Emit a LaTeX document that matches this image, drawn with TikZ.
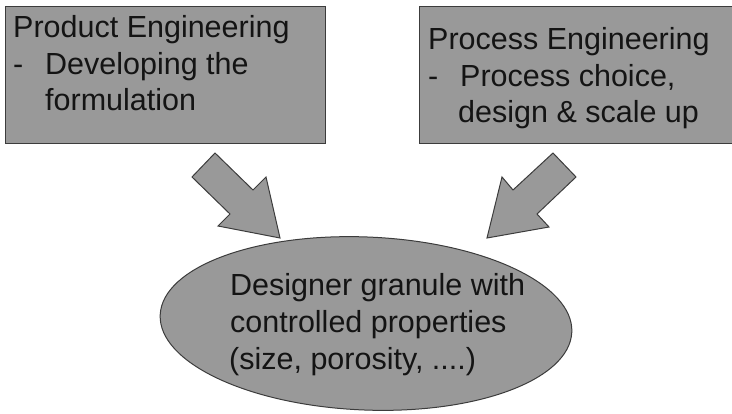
\documentclass[tikz,border=0pt]{standalone}
\usepackage{fontspec}
\setmainfont{Liberation Sans}
\usetikzlibrary{shapes.geometric}
\definecolor{shapegray}{RGB}{153,153,153}
\definecolor{edgegray}{RGB}{60,60,60}
\definecolor{inkcol}{RGB}{20,20,20}
\tikzset{
  box/.style={draw=edgegray, fill=shapegray, line width=1pt, rectangle, inner sep=0pt},
  oval/.style={draw=edgegray, fill=shapegray, line width=1pt, ellipse, inner sep=0pt},
  txt/.style={anchor=base west, inner sep=0pt, font=\fontsize{30.5}{36}\selectfont, text=inkcol},
  blockarrow/.style={draw=edgegray, fill=shapegray, line width=1pt, line join=miter}
}
\begin{document}
\begin{tikzpicture}[x=1pt, y=-1pt]
\useasboundingbox (0,0) rectangle (732,413);
% boxes
\node[box, minimum width=320pt, minimum height=137pt] (prod) at (165,75) {};
\node[box, minimum width=313pt, minimum height=137pt] (proc) at (575.5,74.5) {};
% ellipse
\node[oval, minimum width=412pt, minimum height=173pt, rotate=-2.4] (gran) at (366,323.5) {};
% texts left box
\node[txt] (t1) at (13,37) {Product Engineering};
\node[txt] (t2) at (13,74) {-};
\node[txt] (t3) at (45,74) {Developing the};
\node[txt] (t4) at (45,110) {formulation};
% texts right box
\node[txt] (r1) at (428,49) {Process Engineering};
\node[txt] (r2) at (428,86) {-};
\node[txt] (r3) at (460,86) {Process choice,};
\node[txt] (r4) at (458,122) {design \& scale up};
% ellipse text
\node[txt] (e1) at (230,295) {Designer granule with};
\node[txt] (e2) at (230,332) {controlled properties};
\node[txt] (e3) at (229,369) {(size, porosity, ....)};
% block arrows
\draw[blockarrow] (215,153) -- (253,190) -- (266,177) -- (280,238) -- (218,226) -- (230,214) -- (192,177) -- cycle;
\draw[blockarrow] (553,153) -- (576,177) -- (537,214) -- (549,227) -- (487,238) -- (502,177) -- (513,190) -- cycle;
\end{tikzpicture}
\end{document}
